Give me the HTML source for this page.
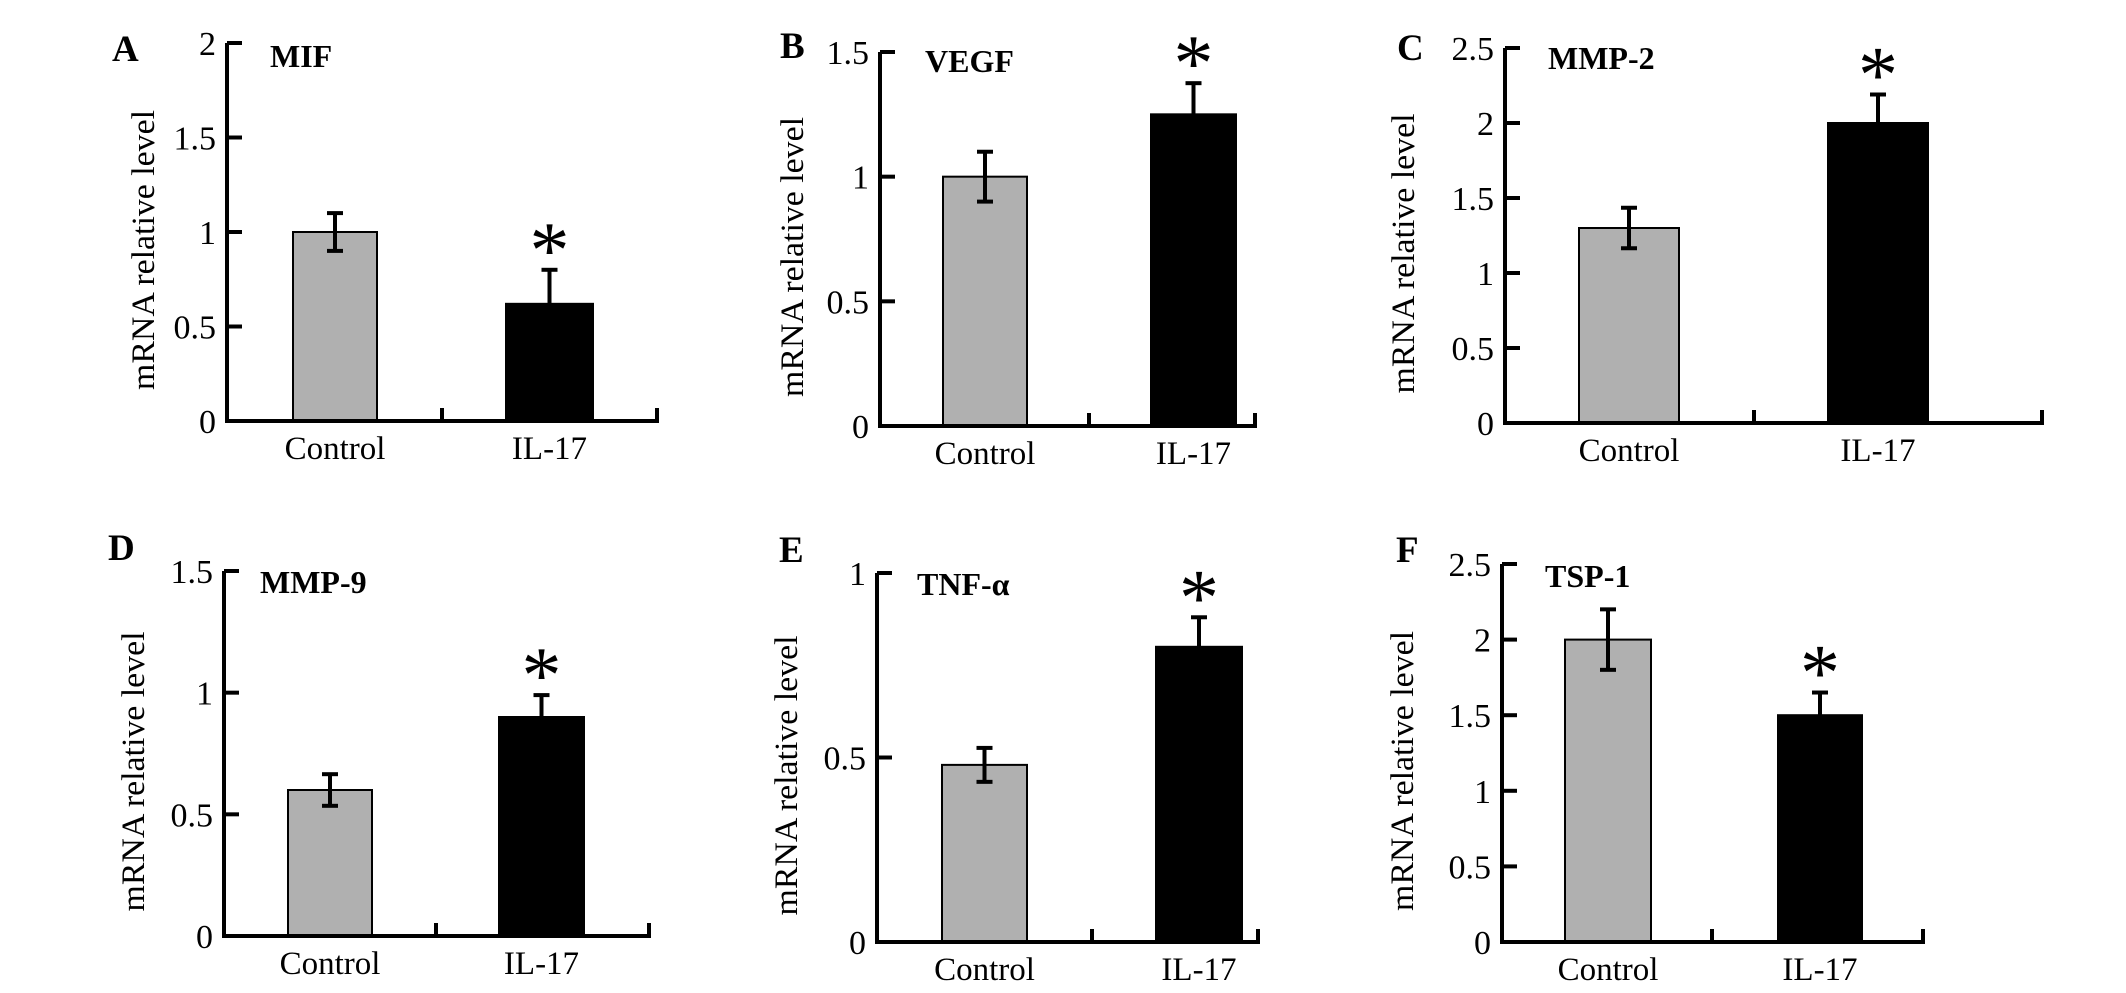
<!DOCTYPE html>
<html><head><meta charset="utf-8"><style>
html,body{margin:0;padding:0;background:#fff;}
svg{display:block;}
svg text{font-family:"Liberation Serif","Times New Roman",serif !important;fill:#000;}
</style></head><body>
<svg id="fig" width="2126" height="993" viewBox="0 0 2126 993" xmlns="http://www.w3.org/2000/svg" font-family="Liberation Serif, serif"></svg>
<script>
const panelLetters = ["A","B","C","D","E","F"];
const geneNames = ["MIF","VEGF","MMP-2","MMP-9","TNF-α","TSP-1"];
const categories = ["Control","IL-17"];
const controlValues = [1.0, 1.0, 1.3, 0.6, 0.48, 2.0];
const controlErrors = [0.1, 0.1, 0.135, 0.065, 0.046, 0.2];
const il17Values = [0.62, 1.25, 2.0, 0.9, 0.8, 1.5];
const il17Errors = [0.18, 0.125, 0.19, 0.09, 0.08, 0.15];
const axisMax = [2, 1.5, 2.5, 1.5, 1, 2.5];
const tickStep = 0.5;

// layout (pixel geometry, not data)
const L = [
 {ax:227,y0:421,yt:43,end:657,mid:442,b:[[293,377],[506,593]],lt:[112,61],gn:[270,67],yx:143},
 {ax:880,y0:426,yt:52,end:1255,mid:1089,b:[[943,1027],[1151,1236]],lt:[780,58],gn:[925,72],yx:792},
 {ax:1505,y0:423,yt:48,end:2042,mid:1754,b:[[1579,1679],[1828,1928]],lt:[1397,60],gn:[1548,69],yx:1403},
 {ax:224,y0:936,yt:571,end:649,mid:436,b:[[288,372],[499,584]],lt:[108,560],gn:[260,593],yx:133},
 {ax:877,y0:942,yt:573,end:1258,mid:1092,b:[[942,1027],[1156,1242]],lt:[779,562],gn:[917,595],yx:786},
 {ax:1502,y0:942,yt:564,end:1923,mid:1712,b:[[1565,1651],[1778,1862]],lt:[1396,562],gn:[1545,587],yx:1402}
];
const NS="http://www.w3.org/2000/svg";
const svg=document.getElementById('fig');
const FF='Liberation Serif, Times New Roman, serif';
function mk(tag,attrs,parent){const e=document.createElementNS(NS,tag);for(const k in attrs)e.setAttribute(k,attrs[k]);if(tag==='text')e.setAttribute('font-family',FF);(parent||svg).appendChild(e);return e;}

for(let i=0;i<6;i++){
  const g=L[i];
  const grp=mk('g',{});
  
  
  const y=v=>g.y0-(v/axisMax[i])*(g.y0-g.yt);
  const vals=[controlValues[i],il17Values[i]], errs=[controlErrors[i],il17Errors[i]];
  for(let j=0;j<2;j++){
    const [x1,x2]=g.b[j];
    const r=mk('rect',{x:x1,y:y(vals[j]),width:x2-x1,height:g.y0-y(vals[j]),fill:j==0?'#b0b0b0':'#000',stroke:'#000','stroke-width':2},grp);
    
    
    const cx=(x1+x2)/2;
    const eg=mk('g',{stroke:'#000','stroke-width':4},grp);
    
    
    const yt=y(vals[j]+errs[j]), yb=y(vals[j]-errs[j]);
    mk('line',{x1:cx,x2:cx,y1:yt,y2:yb},eg);
    mk('line',{x1:cx-8,x2:cx+8,y1:yt,y2:yt},eg);
    mk('line',{x1:cx-8,x2:cx+8,y1:yb,y2:yb},eg);
    const lab=mk('text',{x:cx,y:g.y0+38,'font-size':33,'text-anchor':'middle'},grp);
    lab.textContent=categories[j];
    
    
    if(j==1){
      const a=mk('text',{x:cx,y:yt-31+38,'font-size':80,'text-anchor':'middle'},grp);
      a.textContent='*';
      
      
    }
  }
  const axg=mk('g',{stroke:'#000','stroke-width':4,fill:'none'},grp);
  
  
  mk('path',{d:`M${g.ax},${g.yt} V${g.y0} H${g.end} M${g.mid},${g.y0} v-13 M${g.end},${g.y0+2} v-15`},axg);
  for(let t=0;t<=axisMax[i]+1e-9;t+=tickStep){
    const ty=y(t);
    if(t>0) mk('line',{x1:g.ax,x2:g.ax+15,y1:ty,y2:ty},axg);
    const tl=mk('text',{x:g.ax-11,y:ty+12,'font-size':34,'text-anchor':'end'},grp);
    tl.textContent=String(Math.round(t*10)/10);
    
    
  }
  const yt=mk('text',{x:0,y:0,'font-size':33,'text-anchor':'middle',textLength:280,lengthAdjust:'spacingAndGlyphs',transform:`translate(${g.yx+11},${(g.y0+g.yt)/2+18}) rotate(-90)`},grp);
  yt.textContent='mRNA relative level';
  
  
  const pl=mk('text',{x:g.lt[0],y:g.lt[1],'font-size':37,'font-weight':'bold'},grp);
  pl.textContent=panelLetters[i];
  
  
  const gn=mk('text',{x:g.gn[0],y:g.gn[1],'font-size':32,'font-weight':'bold'},grp);
  gn.textContent=geneNames[i];
  
  
}
</script>
</body></html>
